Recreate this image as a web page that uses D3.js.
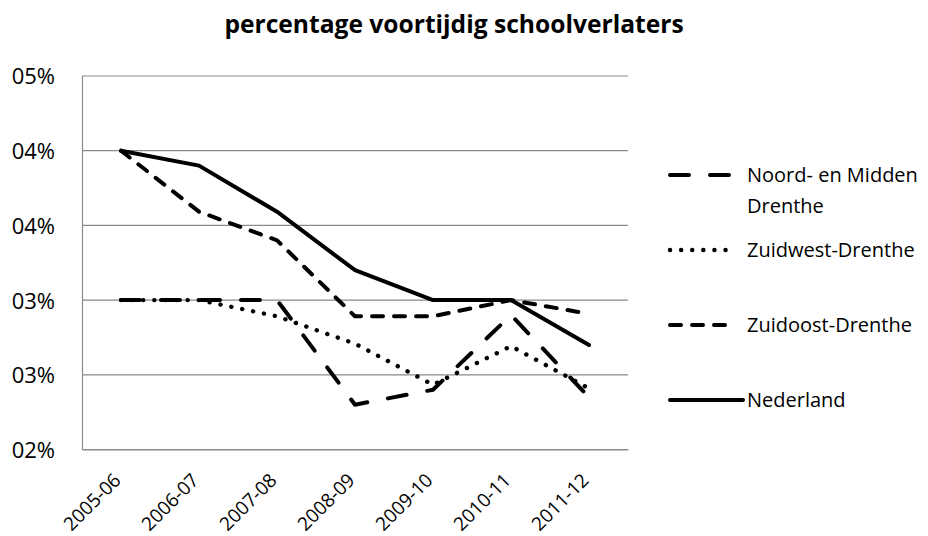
<!DOCTYPE html>
<html>
<head>
<meta charset="utf-8">
<script src="https://cdn.jsdelivr.net/npm/d3@7"></script>
<style>
  html, body { margin: 0; padding: 0; background: #fff; }
  svg { display: block; }
</style>
</head>
<body>
<div id="chart"></div>
<script>
// School years on the x axis
const years = ["2005-06", "2006-07", "2007-08", "2008-09", "2009-10", "2010-11", "2011-12"];

// Share of early school leavers per region (fraction)
const noordMidden = [0.0320, 0.0320, 0.0320, 0.0236, 0.0248, 0.0308, 0.0242];
const zuidwest    = [0.0320, 0.0320, 0.0307, 0.0285, 0.0252, 0.0283, 0.0249];
const zuidoost    = [0.0440, 0.0391, 0.0368, 0.0307, 0.0307, 0.0320, 0.0309];
const nederland   = [0.0440, 0.0428, 0.0391, 0.0344, 0.0320, 0.0320, 0.0284];

const seriesNames = ["Noord- en Midden Drenthe", "Zuidwest-Drenthe", "Zuidoost-Drenthe", "Nederland"];

// Value axis ticks and their printed labels
const yTickValues = [0.020, 0.026, 0.032, 0.038, 0.044, 0.050];
const yTickLabels = ["02%", "03%", "03%", "04%", "04%", "05%"];

const W = 928, H = 536;
const plot = { left: 82, right: 628, top: 76, bottom: 449.5 };
const FONT = "'Open Sans', 'DejaVu Sans', sans-serif";

const svg = d3.select("#chart").append("svg")
  .attr("width", W).attr("height", H)
  .style("font-family", FONT);

const x = d3.scaleBand().domain(years).range([plot.left, plot.right]);
const y = d3.scaleLinear().domain([0.020, 0.050]).range([plot.bottom, plot.top]);

// Title
svg.append("text")
  .attr("x", 454).attr("y", 33)
  .attr("text-anchor", "middle")
  .style("font-size", "24.6px").style("font-weight", "bold")
  .text("percentage voortijdig schoolverlaters");

// Horizontal gridlines
svg.append("g").selectAll("line")
  .data(yTickValues)
  .join("line")
  .attr("x1", plot.left).attr("x2", plot.right)
  .attr("y1", d => y(d)).attr("y2", d => y(d))
  .attr("stroke", "#8a8a8a").attr("stroke-width", 1.2);

// Y axis
const yAxis = d3.axisLeft(y)
  .tickValues(yTickValues)
  .tickSize(0)
  .tickPadding(27)
  .tickFormat((d, i) => yTickLabels[i]);
const gy = svg.append("g").attr("transform", `translate(${plot.left},0)`).call(yAxis);
gy.select(".domain").attr("stroke", "#8a8a8a").attr("stroke-width", 1.2);
gy.selectAll("text")
  .attr("fill", "#000")
  .style("font-size", "22px").style("font-family", FONT)
  .attr("dy", "0.36em");

// X axis with labels slanted at 45 degrees
const xAxis = d3.axisBottom(x).tickSize(0).tickPadding(0);
const gx = svg.append("g").attr("transform", `translate(0,${plot.bottom})`).call(xAxis);
gx.select(".domain").attr("stroke", "#8a8a8a").attr("stroke-width", 1.2);
gx.selectAll(".tick text")
  .attr("fill", "#000")
  .style("font-size", "19px").style("font-family", FONT)
  .attr("text-anchor", "end")
  .attr("dy", "0")
  .attr("transform", "translate(1,32) rotate(-45)");

// Line styles per series
const styles = [
  { dash: "19 21", width: 4 },
  { dash: "0.1 11", width: 4.4 },
  { dash: "11 11", width: 4 },
  { dash: null, width: 4 }
];
const seriesValues = [noordMidden, zuidwest, zuidoost, nederland];

const line = d3.line()
  .x((d, i) => x(years[i]) + x.bandwidth() / 2)
  .y(d => y(d));

svg.append("g").selectAll("path")
  .data(seriesValues)
  .join("path")
  .attr("d", d => line(d))
  .attr("fill", "none")
  .attr("stroke", "#000")
  .attr("stroke-width", (d, i) => styles[i].width)
  .attr("stroke-dasharray", (d, i) => styles[i].dash)
  .attr("stroke-linecap", "round")
  .attr("stroke-linejoin", "round");

// Legend
const legendRows = [175, 250, 325, 400];
const legend = svg.append("g");
seriesNames.forEach((name, i) => {
  const g = legend.append("g").attr("transform", `translate(0,${legendRows[i]})`);
  const x2 = i === 3 ? 743 : 731;
  g.append("line")
    .attr("x1", 670).attr("x2", x2).attr("y1", 0).attr("y2", 0)
    .attr("stroke", "#000")
    .attr("stroke-width", styles[i].width)
    .attr("stroke-dasharray", styles[i].dash)
    .attr("stroke-linecap", "round");
  const t = g.append("text")
    .attr("x", 747).attr("y", 0).attr("dy", "0.36em")
    .style("font-size", "20px");
  if (i === 0) {
    t.append("tspan").attr("x", 747).text("Noord- en Midden");
    t.append("tspan").attr("x", 747).attr("dy", "1.55em").text("Drenthe");
  } else {
    t.text(name);
  }
});
</script>
</body>
</html>
